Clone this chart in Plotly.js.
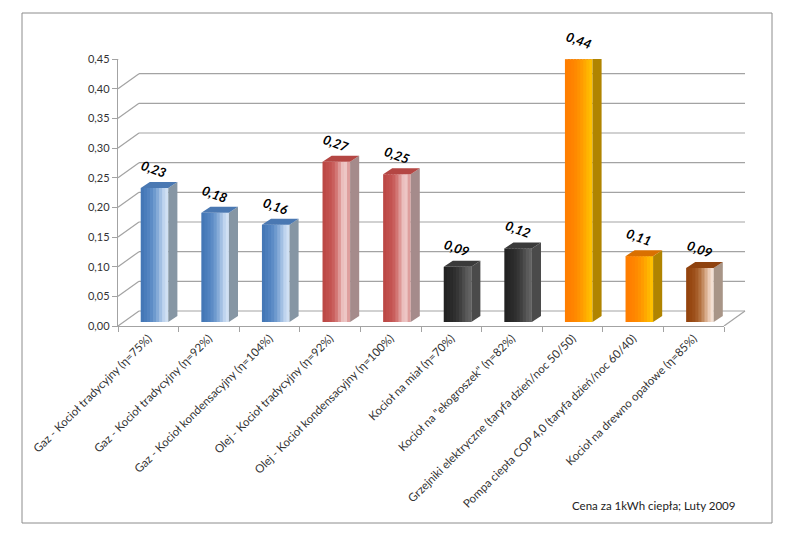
<!DOCTYPE html>
<html><head><meta charset="utf-8">
<script src="https://cdn.plot.ly/plotly-3.0.1.min.js"></script>
<style>html,body{margin:0;padding:0;background:#fff;}#chart{width:792px;height:536px;}</style>
</head><body><div id="chart"></div>
<script>
// ---- data ----
const categories = [
  'Gaz - Kocioł tradycyjny (η=75%)',
  'Gaz - Kocioł tradycyjny (η=92%)',
  'Gaz - Kocioł kondensacyjny (η=104%)',
  'Olej - Kocioł tradycyjny (η=92%)',
  'Olej - Kocioł kondensacyjny (η=100%)',
  'Kocioł na miał (η=70%)',
  'Kocioł na "ekogroszek" (η=82%)',
  'Grzejniki elektryczne (taryfa dzień/noc 50/50)',
  'Pompa ciepła COP 4,0 (taryfa dzień/noc 60/40)',
  'Kocioł na drewno opałowe (η=85%)'
];
const values = [0.226, 0.184, 0.164, 0.270, 0.249, 0.093, 0.124, 0.443, 0.111, 0.091];
const valueLabels = ['0,23', '0,18', '0,16', '0,27', '0,25', '0,09', '0,12', '0,44', '0,11', '0,09'];
const groups = ['gas','gas','gas','oil','oil','coal','coal','elec','elec','wood'];
const yTicks = [0, 0.05, 0.10, 0.15, 0.20, 0.25, 0.30, 0.35, 0.40, 0.45];
const note = 'Cena za 1kWh ciepła; Luty 2009';

// ---- styles ----
const palette = {
  gas:  {front:['#4477B6','#4A7DBB','#5283C0','#5D8CC6','#6E9ACE','#86ABD8','#A3C0E3','#BFD4EE','#D0E0F3'], side:'#8696A4', top:'#4A78B2'},
  oil:  {front:['#BC4845','#C04E4B','#C35351','#C95F5D','#D27674','#DE9897','#EBBEBD','#EDC6C5','#DE9F9E'], side:'#A58B8B', top:'#B44643'},
  coal: {front:['#222222','#262626','#2A2A2A','#2F2F2F','#363636','#404040','#4D4D4D','#5A5A5A','#626262'], side:'#4A4A4A', top:'#3A3A3A'},
  elec: {front:['#FF7E00','#FF8000','#FF8400','#FF8A00','#FF9200','#FF9C00','#FFA800','#FFB500','#FFC000'], side:'#B08400', top:'#D97000'},
  wood: {front:['#94440E','#974812','#9C4F1A','#A55C28','#B2703E','#C48C61','#D9AD8C','#EBCCB6','#F3E0D3'], side:'#A89587', top:'#8E420F'}
};
const groupOrder = ['gas','oil','coal','elec','wood'];

// bar geometry in category units
const nSlices = 9, frontStart = -0.125, frontWidth = 0.455, depthU = 0.15;
const sliceW = frontWidth / nSlices;

// plot area geometry (pixels)
const L = 118, R = 68, T = 59, B = 210, W = 792, H = 536;
const pw = W - L - R, ph = H - T - B;
const ymax = 0.45;
const px2y = p => p / ph * ymax;
const barLift = px2y(4);      // bars stand slightly behind the front axis plane
const topRise = px2y(6);      // depth of the bar's top / side faces
const wallDX = 21, wallDY = 15; // back wall offset
const px2x = p => (p - L) / pw;

const traces = [];
for (let s = 0; s < nSlices; s++) {
  const last = s === nSlices - 1;
  traces.push({
    type:'bar', x: categories, y: values, xaxis:'x', yaxis:'y2',
    offset: frontStart + s*sliceW, width: last ? sliceW : sliceW + 0.03,
    marker:{color: groups.map(g => palette[g].front[s]), line:{width:0}},
    hoverinfo:'skip', showlegend:false
  });
}
// top and side faces as filled polygons on an overlaid linear x axis
groupOrder.forEach(g => {
  const tx = [], ty = [], sx = [], sy = [];
  values.forEach((v, i) => {
    if (groups[i] !== g) return;
    const x0 = i + frontStart, x1 = x0 + frontWidth;
    tx.push(x0, x1, x1 + depthU, x0 + depthU, x0, null);
    ty.push(v, v, v + topRise, v + topRise, v, null);
    sx.push(x1, x1, x1 + depthU, x1 + depthU, x1, null);
    sy.push(0, v, v + topRise, topRise, 0, null);
  });
  traces.push({type:'scatter', mode:'lines', x: sx, y: sy, xaxis:'x2', yaxis:'y2',
    fill:'toself', fillcolor: palette[g].side, line:{width:0, color: palette[g].side},
    hoverinfo:'skip', showlegend:false});
  traces.push({type:'scatter', mode:'lines', x: tx, y: ty, xaxis:'x2', yaxis:'y2',
    fill:'toself', fillcolor: palette[g].top, line:{width:0, color: palette[g].top},
    hoverinfo:'skip', showlegend:false});
});

const dy = px2y(wallDY);
const grid = {color:'#A3A3A3', width:1.2};
const shapes = [];
yTicks.forEach(v => {
  shapes.push({type:'line', layer:'below', xref:'paper', yref:'y',
    x0: px2x(L + wallDX), x1: px2x(L + pw + wallDX), y0: v + dy, y1: v + dy, line: grid});
  shapes.push({type:'line', layer:'below', xref:'paper', yref:'y',
    x0: 0, x1: px2x(L + wallDX), y0: v, y1: v + dy, line: grid});
});
shapes.push({type:'line', layer:'below', xref:'paper', yref:'y',
  x0: 1, x1: px2x(L + pw + wallDX), y0: 0, y1: dy, line: grid});
shapes.push({type:'rect', xref:'paper', yref:'paper',
  x0: px2x(22), x1: px2x(772), y0: (H - B - 523)/ph, y1: (H - B - 13)/ph,
  line:{color:'#8C8C8C', width:1}, fillcolor:'rgba(0,0,0,0)'});

const annotations = categories.map((c, i) => ({
  x: c, y: values[i], xref:'x', yref:'y2',
  text: valueLabels[i],
  showarrow:false, textangle: 20, xshift: 6, yshift: 19,
  font:{family:'Lato, Liberation Sans, sans-serif', size:13, color:'#000', weight:'bold', style:'italic'}
}));
annotations.push({
  text: note, xref:'paper', yref:'paper',
  x: px2x(737), y: (H - B - 505)/ph, xanchor:'right', yanchor:'middle',
  showarrow:false, font:{family:'Lato, Liberation Sans, sans-serif', size:11.5, color:'#222'}
});

const layout = {
  width: W, height: H,
  margin:{l:L, r:R, t:T, b:B, pad:0},
  paper_bgcolor:'#fff', plot_bgcolor:'rgba(0,0,0,0)',
  barmode:'overlay', separators:', ',
  font:{family:'Lato, Liberation Sans, sans-serif', color:'#333'},
  xaxis:{type:'category', range:[-0.5, 9.5], showgrid:false, zeroline:false,
    showline:true, linecolor:'#A3A3A3', linewidth:1.2,
    ticks:'outside', tickson:'boundaries', ticklen:5, tickcolor:'#A3A3A3',
    tickangle:-45, tickfont:{size:11.5, color:'#333'}, fixedrange:true},
  xaxis2:{type:'linear', overlaying:'x', range:[-0.5, 9.5], visible:false, fixedrange:true},
  yaxis:{range:[0, ymax], showgrid:false, zeroline:false,
    showline:true, linecolor:'#A3A3A3', linewidth:1.2,
    ticks:'outside', ticklen:5, tickcolor:'#A3A3A3',
    tickvals: yTicks, tickformat:'.2f', tickfont:{size:11, color:'#333'}, fixedrange:true},
  yaxis2:{overlaying:'y', range:[-barLift, ymax - barLift], visible:false, fixedrange:true},
  shapes, annotations, showlegend:false
};

Plotly.newPlot('chart', traces, layout, {displayModeBar:false, staticPlot:true});
</script></body></html>
